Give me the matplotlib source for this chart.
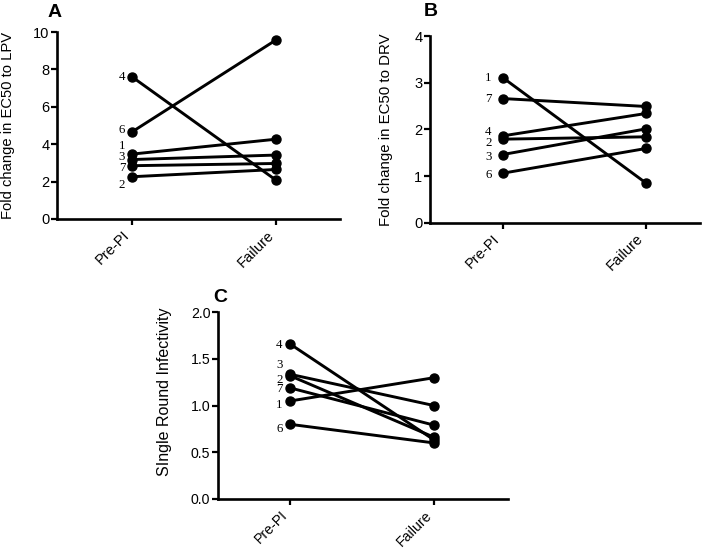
import matplotlib.pyplot as plt

# patient ids, values
cats = ['Pre-PI', 'Failure']

a_ids = ['4', '6', '1', '3', '7', '2']
a_pre = [7.6, 4.66, 3.47, 3.18, 2.85, 2.26]
a_fail = [2.06, 9.59, 4.27, 3.42, 2.97, 2.65]

b_ids = ['1', '7', '4', '2', '3', '6']
b_pre = [3.11, 2.66, 1.86, 1.79, 1.46, 1.06]
b_fail = [0.85, 2.49, 2.34, 1.84, 2.01, 1.59]

c_ids = ['4', '3', '2', '7', '1', '6']
c_pre = [1.66, 1.336, 1.32, 1.19, 1.05, 0.80]
c_fail = [0.63, 1.00, 0.66, 0.79, 1.30, 0.60]

# label nudges (points) so the ids don't sit on top of each other
a_nudge = [0, 1, 6, 1.5, -1.5, -6]
b_nudge = [0, 0, 3, -2.5, -1.5, -1.5]
c_nudge = [-1, 7, -3, -1, -3, -3.5]

sans = ['Liberation Sans', 'DejaVu Sans']
serif = ['Liberation Serif', 'DejaVu Serif']

W, H = 720, 548


def panel(px, ids, pre, fail, nudge, ymax, step, fmt, xlim, ylabel, lab_x, lab_y, lab_dx,
          tsize, lsize):
    # px = left, top, right, bottom of the axes in pixels
    l, t, r, b = px
    ax = fig.add_axes([l / W, 1 - b / H, (r - l) / W, (b - t) / H])
    for i in range(len(ids)):
        ax.plot([0, 1], [pre[i], fail[i]], color='black', lw=2.1,
                marker='o', ms=6.5, solid_capstyle='round', clip_on=False, zorder=3)
        ax.annotate(ids[i], (0, pre[i]), xytext=(lab_dx, nudge[i]), textcoords='offset points',
                    ha='right', va='center', fontsize=9.3, family=serif)
    ax.set_xlim(xlim)
    ax.set_ylim(0, ymax)
    ticks = []
    v = 0.0
    while v <= ymax + 1e-9:
        ticks.append(v)
        v += step
    ax.set_yticks(ticks)
    ax.set_yticklabels([fmt.format(t) for t in ticks], family=sans, fontsize=tsize)
    ax.set_xticks([0, 1])
    ax.set_xticklabels(cats, rotation=45, ha='right', family=sans, fontsize=tsize)
    ax.spines['top'].set_visible(False)
    ax.spines['right'].set_visible(False)
    ax.spines['left'].set_linewidth(1.9)
    ax.spines['bottom'].set_linewidth(1.9)
    ax.tick_params(width=1.6, length=4, pad=1.5)
    ax.tick_params(axis='x', pad=2.5)
    ax.set_ylabel(ylabel, family=sans, fontsize=lsize)
    ax.yaxis.set_label_coords(lab_x, lab_y)
    return ax


def letter(s, x, y):
    fig.text(x / W, 1 - y / H, s, fontsize=14, fontweight='bold', family=sans,
             ha='left', va='baseline')


fig = plt.figure(figsize=(7.2, 5.48), dpi=100)

panel((57, 32, 340, 219), a_ids, a_pre, a_fail, a_nudge,
      10, 2, '{:.0f}', (-0.52, 1.44), 'Fold change in EC50 to LPV', -0.148, 0.5, -5, 10.5, 10.6)
panel((430, 36, 700, 222.7), b_ids, b_pre, b_fail, b_nudge,
      4, 1, '{:.0f}', (-0.507, 1.377), 'Fold change in EC50 to DRV', -0.137, 0.5, -8, 10.5, 10.8)
panel((218, 312.3, 508, 499), c_ids, c_pre, c_fail, c_nudge,
      2.0, 0.5, '{:.1f}', (-0.5, 1.51), 'SIngle Round Infectivity', -0.159, 0.575, -5.5, 10.2, 11.5)

letter('A', 48, 17)
letter('B', 424, 16)
letter('C', 213, 302)

fig.savefig('out.png', dpi=100)
